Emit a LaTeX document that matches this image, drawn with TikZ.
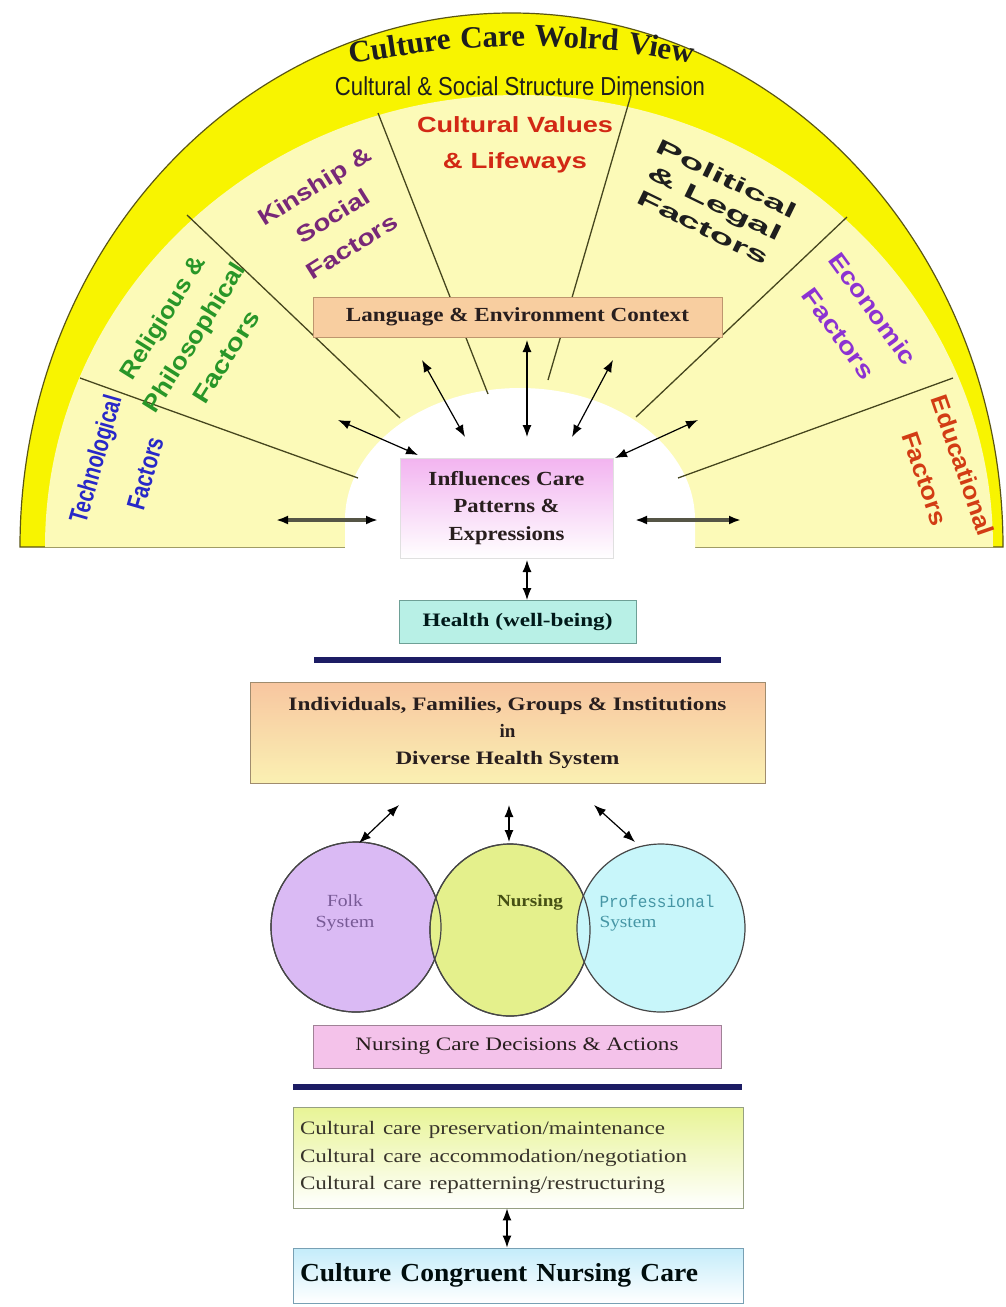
\documentclass[tikz,border=0pt]{standalone}
\usepackage{fontspec}
\usepackage{graphicx}
\setmainfont{Liberation Serif}
\setsansfont{Liberation Sans}
\newfontfamily\monofam{Liberation Mono}
\usetikzlibrary{arrows.meta,shapes.geometric}
\newcommand\hw[2]{\resizebox{#1pt}{\height}{#2}}
\definecolor{band}{RGB}{248,244,0}
\definecolor{bandline}{RGB}{90,85,20}
\definecolor{pale}{RGB}{252,250,184}
\definecolor{sect}{RGB}{70,70,30}
\definecolor{techblue}{RGB}{40,40,200}
\definecolor{relgreen}{RGB}{40,150,40}
\definecolor{kinpurple}{RGB}{120,40,120}
\definecolor{valred}{RGB}{210,40,20}
\definecolor{polblack}{RGB}{30,30,30}
\definecolor{econviolet}{RGB}{140,50,210}
\definecolor{edured}{RGB}{210,60,20}
\definecolor{langfill}{RGB}{248,206,160}
\definecolor{langdraw}{RGB}{190,150,110}
\definecolor{inflpink}{RGB}{242,180,240}
\definecolor{healthfill}{RGB}{184,240,230}
\definecolor{healthdraw}{RGB}{110,160,150}
\definecolor{indtop}{RGB}{248,198,160}
\definecolor{indbot}{RGB}{250,240,178}
\definecolor{inddraw}{RGB}{160,140,110}
\definecolor{navy}{RGB}{28,28,100}
\definecolor{folkfill}{RGB}{218,186,244}
\definecolor{nursfill}{RGB}{228,240,140}
\definecolor{proffill}{RGB}{200,246,250}
\definecolor{circdraw}{RGB}{70,70,70}
\definecolor{ncdfill}{RGB}{244,194,234}
\definecolor{ncddraw}{RGB}{160,130,150}
\definecolor{cctop}{RGB}{232,244,150}
\definecolor{ccdraw}{RGB}{150,160,130}
\definecolor{congtop}{RGB}{196,236,250}
\definecolor{congdraw}{RGB}{120,160,180}
\definecolor{boxtext}{RGB}{40,30,30}
\definecolor{arrgray}{RGB}{85,85,70}
\definecolor{folktext}{RGB}{120,90,150}
\definecolor{nurstext}{RGB}{70,80,20}
\definecolor{proftext}{RGB}{70,150,165}
\begin{document}
\begin{tikzpicture}[x=1pt,y=-1pt,
  tip/.tip={Latex[length=12pt,width=9pt,color=black]},
  arr/.style={tip-tip, line width=1.2pt, draw=black},
  harr/.style={tip-tip, line width=3.5pt, draw=arrgray},
  sectline/.style={draw=sect, line width=1.3pt},
  lab/.style={inner sep=0pt, align=center},
  ttl/.style={font=\bfseries\fontsize{31}{31}\selectfont, text=polblack, inner sep=0pt, anchor=base},
  boxnode/.style={rectangle, inner sep=0pt, line width=0.9pt, text=boxtext, align=center},
  sbold/.style={font=\bfseries\fontsize{19}{27.5}\selectfont},
  sreg/.style={font=\fontsize{19}{27.5}\selectfont},
  circnode/.style={circle, draw=circdraw, line width=1.2pt, inner sep=0pt},
  ctext/.style={font=\fontsize{17}{17}\selectfont, inner sep=0pt},
  navyline/.style={draw=navy, line width=6pt}
]
\useasboundingbox (0,0) rectangle (1006,1307);
\fill[white] (0,0) rectangle (1006,1307);

% semicircular world view
\filldraw[fill=band, draw=bandline, line width=1.2pt] (20,547) arc[start angle=180, end angle=360, x radius=491.5, y radius=534] -- cycle;
\fill[pale] (45,547) arc[start angle=180, end angle=360, x radius=474, y radius=452] -- cycle;
\fill[white] (345,548) -- (345,520) arc[start angle=180, end angle=360, x radius=175, y radius=132] -- (695,548) -- cycle;

% sector dividers
\draw[sectline] (80,378) -- (358,478);
\draw[sectline] (187,215) -- (400,418);
\draw[sectline] (378,113) -- (488,394);
\draw[sectline] (631,95) -- (548,380);
\draw[sectline] (847,217) -- (636,417);
\draw[sectline] (953,378) -- (678,478);

% title words along the arc
\node[ttl, rotate=8.66] (ttl1) at (401.5,56) {Culture};
\node[ttl, rotate=2.08] (ttl2) at (493,47) {Care};
\node[ttl, rotate=-3.87] (ttl3) at (576,48) {Wolrd};
\node[ttl, rotate=-9.93] (ttl4) at (660,58) {View};
\node[font=\sffamily\fontsize{26}{26}\selectfont, text=polblack, anchor=base, inner sep=0pt] (cssd) at (520,95) {\hw{370}{Cultural \& Social Structure Dimension}};

% factor labels
\node[lab, text=techblue, rotate=74, font=\sffamily\bfseries\fontsize{26}{52}\selectfont] (tech) at (120,466) {\hw{131}{Technological}\\\hw{74}{Factors}};
\node[lab, text=relgreen, rotate=58, font=\sffamily\bfseries\fontsize{24}{37.5}\selectfont] (rel) at (194,337) {\hw{140}{Religious \&}\\\hw{171}{Philosophical}\\\hw{104}{Factors}};
\node[lab, text=kinpurple, rotate=32, font=\sffamily\bfseries\fontsize{23}{35.5}\selectfont] (kin) at (333,216) {\hw{128}{Kinship \&}\\\hw{82}{Social}\\\hw{103}{Factors}};
\node[lab, text=valred, font=\sffamily\bfseries\fontsize{22}{36}\selectfont] (val) at (515,145) {\hw{196}{Cultural Values}\\\hw{144}{\& Lifeways}};
\node[lab, text=polblack, rotate=-26, font=\sffamily\bfseries\fontsize{21}{27}\selectfont] (pol) at (715,203) {\hw{154}{Political}\\\hw{146}{\& Legal}\\\hw{144}{Factors}};
\node[lab, text=econviolet, rotate=-54, font=\sffamily\bfseries\fontsize{24}{42}\selectfont] (eco) at (856,321) {\hw{132}{Economic}\\\hw{106}{Factors}};
\node[lab, text=edured, rotate=-71, font=\sffamily\bfseries\fontsize{24}{40}\selectfont] (edu) at (944,472) {\hw{147}{Educational}\\\hw{97}{Factors}};

% central boxes
\node[boxnode, fill=langfill, draw=langdraw, minimum width=409pt, minimum height=40pt, font=\bfseries\fontsize{20}{20}\selectfont] (lang) at (517.5,317) {\hw{343}{Language \& Environment Context}};
\node[boxnode, top color=inflpink, bottom color=white, draw=white!88!black, line width=0.5pt, minimum width=213pt, minimum height=100pt, font=\bfseries\fontsize{20}{27.5}\selectfont] (infl) at (506.5,508) {\hw{156}{Influences Care}\\\hw{106}{Patterns \&}\\\hw{116}{Expressions}};

% arrows around influences
\coordinate (a1s) at (276,520); \coordinate (a1e) at (378,520);
\coordinate (a2s) at (635,520); \coordinate (a2e) at (741,520);
\coordinate (a3s) at (338,420); \coordinate (a3e) at (418,455);
\coordinate (a4s) at (422,360); \coordinate (a4e) at (465,437);
\coordinate (a5s) at (527,340); \coordinate (a5e) at (527,437);
\coordinate (a6s) at (613,360); \coordinate (a6e) at (572,437);
\coordinate (a7s) at (698,420); \coordinate (a7e) at (615,458);
\draw[harr] (a1s) -- (a1e);
\draw[harr] (a2s) -- (a2e);
\draw[arr] (a3s) -- (a3e);
\draw[arr] (a4s) -- (a4e);
\draw[arr] (a5s) -- (a5e);
\draw[arr] (a6s) -- (a6e);
\draw[arr] (a7s) -- (a7e);

% health
\node[boxnode, fill=healthfill, draw=healthdraw, minimum width=237pt, minimum height=43pt, sbold, text=black!80!teal] (health) at (517.5,621.5) {\hw{190}{Health (well-being)}};
\coordinate (a8s) at (527,560); \coordinate (a8e) at (527,600);
\draw[arr] (a8s) -- (a8e);

\coordinate (n1a) at (314,660); \coordinate (n1b) at (721,660);
\draw[navyline] (n1a) -- (n1b);

\node[boxnode, top color=indtop, bottom color=indbot, draw=inddraw, minimum width=515pt, minimum height=101pt, font=\bfseries\fontsize{19}{27}\selectfont] (indiv) at (507.5,732.5) {\hw{438}{Individuals, Families, Groups \& Institutions}\\in\\\hw{224}{Diverse Health System}};

% circles
\node[circnode, fill=folkfill, minimum size=170pt] (folk) at (356,927) {};
\node[ellipse, draw=circdraw, line width=1.2pt, inner sep=0pt, fill=nursfill, minimum width=160pt, minimum height=172pt] (nurs) at (510,930) {};
\node[circnode, fill=proffill, minimum size=168pt] (prof) at (661,928) {};
\draw[circdraw, line width=1.2pt] (folk.center) circle[radius=85];
\draw[circdraw, line width=1.2pt] (nurs.center) ellipse[x radius=80, y radius=86];

\node[ctext, text=folktext] (folkt) at (345,901) {\hw{36}{Folk}};
\node[ctext, text=folktext] (folkt2) at (345,924) {\hw{59}{System}};
\node[ctext, text=nurstext, font=\bfseries\fontsize{17}{17}\selectfont] (nurst) at (530,902) {\hw{66}{Nursing}};
\node[ctext, text=proftext, font=\monofam\fontsize{17}{17}\selectfont] (proft1) at (657,901) {\hw{115}{Professional}};
\node[ctext, text=proftext] (proft2) at (628,924) {\hw{57}{System}};

\coordinate (b1s) at (399,805); \coordinate (b1e) at (359,843);
\coordinate (b2s) at (509,805); \coordinate (b2e) at (509,842);
\coordinate (b3s) at (594,805); \coordinate (b3e) at (635,842);
\draw[arr] (b1s) -- (b1e);
\draw[arr] (b2s) -- (b2e);
\draw[arr] (b3s) -- (b3e);

% lower boxes
\node[boxnode, fill=ncdfill, draw=ncddraw, minimum width=408pt, minimum height=43pt, sreg] (ncd) at (517,1046.5) {\hw{323}{Nursing Care Decisions \& Actions}};
\coordinate (n2a) at (293,1087); \coordinate (n2b) at (742,1087);
\draw[navyline] (n2a) -- (n2b);

\node[boxnode, top color=cctop, bottom color=white, draw=ccdraw, minimum width=450pt, minimum height=101pt, text width=436pt, align=left, sreg, text=black!80!olive] (ccare) at (518,1157.5) {\hw{365}{Cultural care preservation/maintenance}\\\hw{387}{Cultural care accommodation/negotiation}\\\hw{365}{Cultural care repatterning/restructuring}};

\node[boxnode, top color=congtop, bottom color=white, draw=congdraw, minimum width=450pt, minimum height=55pt, text width=436pt, align=left, font=\bfseries\fontsize{26}{26}\selectfont, text=black!90!teal] (cong) at (518,1275.5) {\hw{398}{Culture Congruent Nursing Care}};

\draw[arr] (ccare.south -| 507,0) -- (cong.north -| 507,0);
\end{tikzpicture}
\end{document}
